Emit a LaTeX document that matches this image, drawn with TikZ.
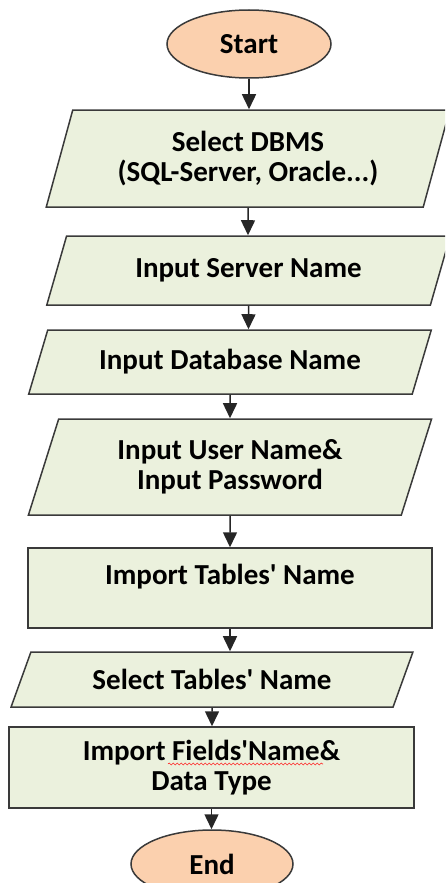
\documentclass[tikz,border=0pt]{standalone}
\usepackage{fontspec}
\setmainfont{Carlito}
\usepackage{tikz}
\usetikzlibrary{shapes.geometric,arrows.meta,decorations.pathmorphing}

\definecolor{termfill}{HTML}{FBD0AE}
\definecolor{boxfill}{HTML}{EBF1DD}
\definecolor{edgegray}{HTML}{3A3A3A}

\tikzset{
  base/.style={draw=edgegray, line width=1.5pt, align=center, inner sep=0pt,
    font=\fontsize{29}{30}\selectfont\bfseries},
  term/.style={base, ellipse, fill=termfill, minimum width=164pt, minimum height=68pt},
  io/.style={base, trapezium, trapezium stretches=true, fill=boxfill},
  proc/.style={base, rectangle, fill=boxfill, minimum width=404pt},
  arr/.style={-{Triangle[length=15pt,width=14pt]}, line width=1.5pt, draw=black!85},
}

\begin{document}
\begin{tikzpicture}[x=1pt,y=-1pt]
\path[use as bounding box] (0,0) rectangle (445,883);
\clip (0,0) rectangle (445,883);

\node[term] (start) at (249,44) {Start};
\node[io, minimum width=404pt, minimum height=97pt,
  trapezium left angle=70.2, trapezium right angle=109.8] (dbms) at (248,158.5)
  {Select DBMS\\(SQL-Server, Oracle...)};
\node[io, minimum width=405pt, minimum height=69pt,
  trapezium left angle=62.4, trapezium right angle=117.6] (server) at (248.5,270.5)
  {Input Server Name};
\node[io, minimum width=404pt, minimum height=64pt,
  trapezium left angle=61.3, trapezium right angle=118.7] (db) at (230,362)
  {Input Database Name};
\node[io, minimum width=404pt, minimum height=96pt,
  trapezium left angle=70, trapezium right angle=110] (user) at (230,467)
  {Input User Name\&\\Input Password};
\node[proc, minimum height=80pt, text depth=28pt] (imptab) at (230,588)
  {Import Tables\textquotesingle{} Name};
\node[io, minimum width=402pt, minimum height=55pt,
  trapezium left angle=57.5, trapezium right angle=122.5] (seltab) at (212,679.5)
  {Select Tables\textquotesingle{} Name};
\node[proc, minimum width=405pt, minimum height=81pt] (impfld) at (211.5,767.5)
  {Import Fields\textquotesingle Name\&\\Data Type};
\node[term, minimum width=162pt] (end) at (212,864) {End};

\draw[arr] (start) -- (start |- dbms.north);
\draw[arr] (dbms) -- (dbms |- server.north);
\draw[arr] (server) -- (server |- db.north);
\draw[arr] (db) -- (db |- user.north);
\draw[arr] (user) -- (user |- imptab.north);
\draw[arr] (imptab) -- (imptab |- seltab.north);
\draw[arr] (seltab) -- (seltab |- impfld.north);
\draw[arr] (impfld) -- (impfld |- end.north);

% spell-check squiggle under the field label
\draw[red!85, line width=0.6pt, decorate,
  decoration={snake, amplitude=1pt, segment length=4pt}] (168,764) -- (323,764);

\end{tikzpicture}
\end{document}
